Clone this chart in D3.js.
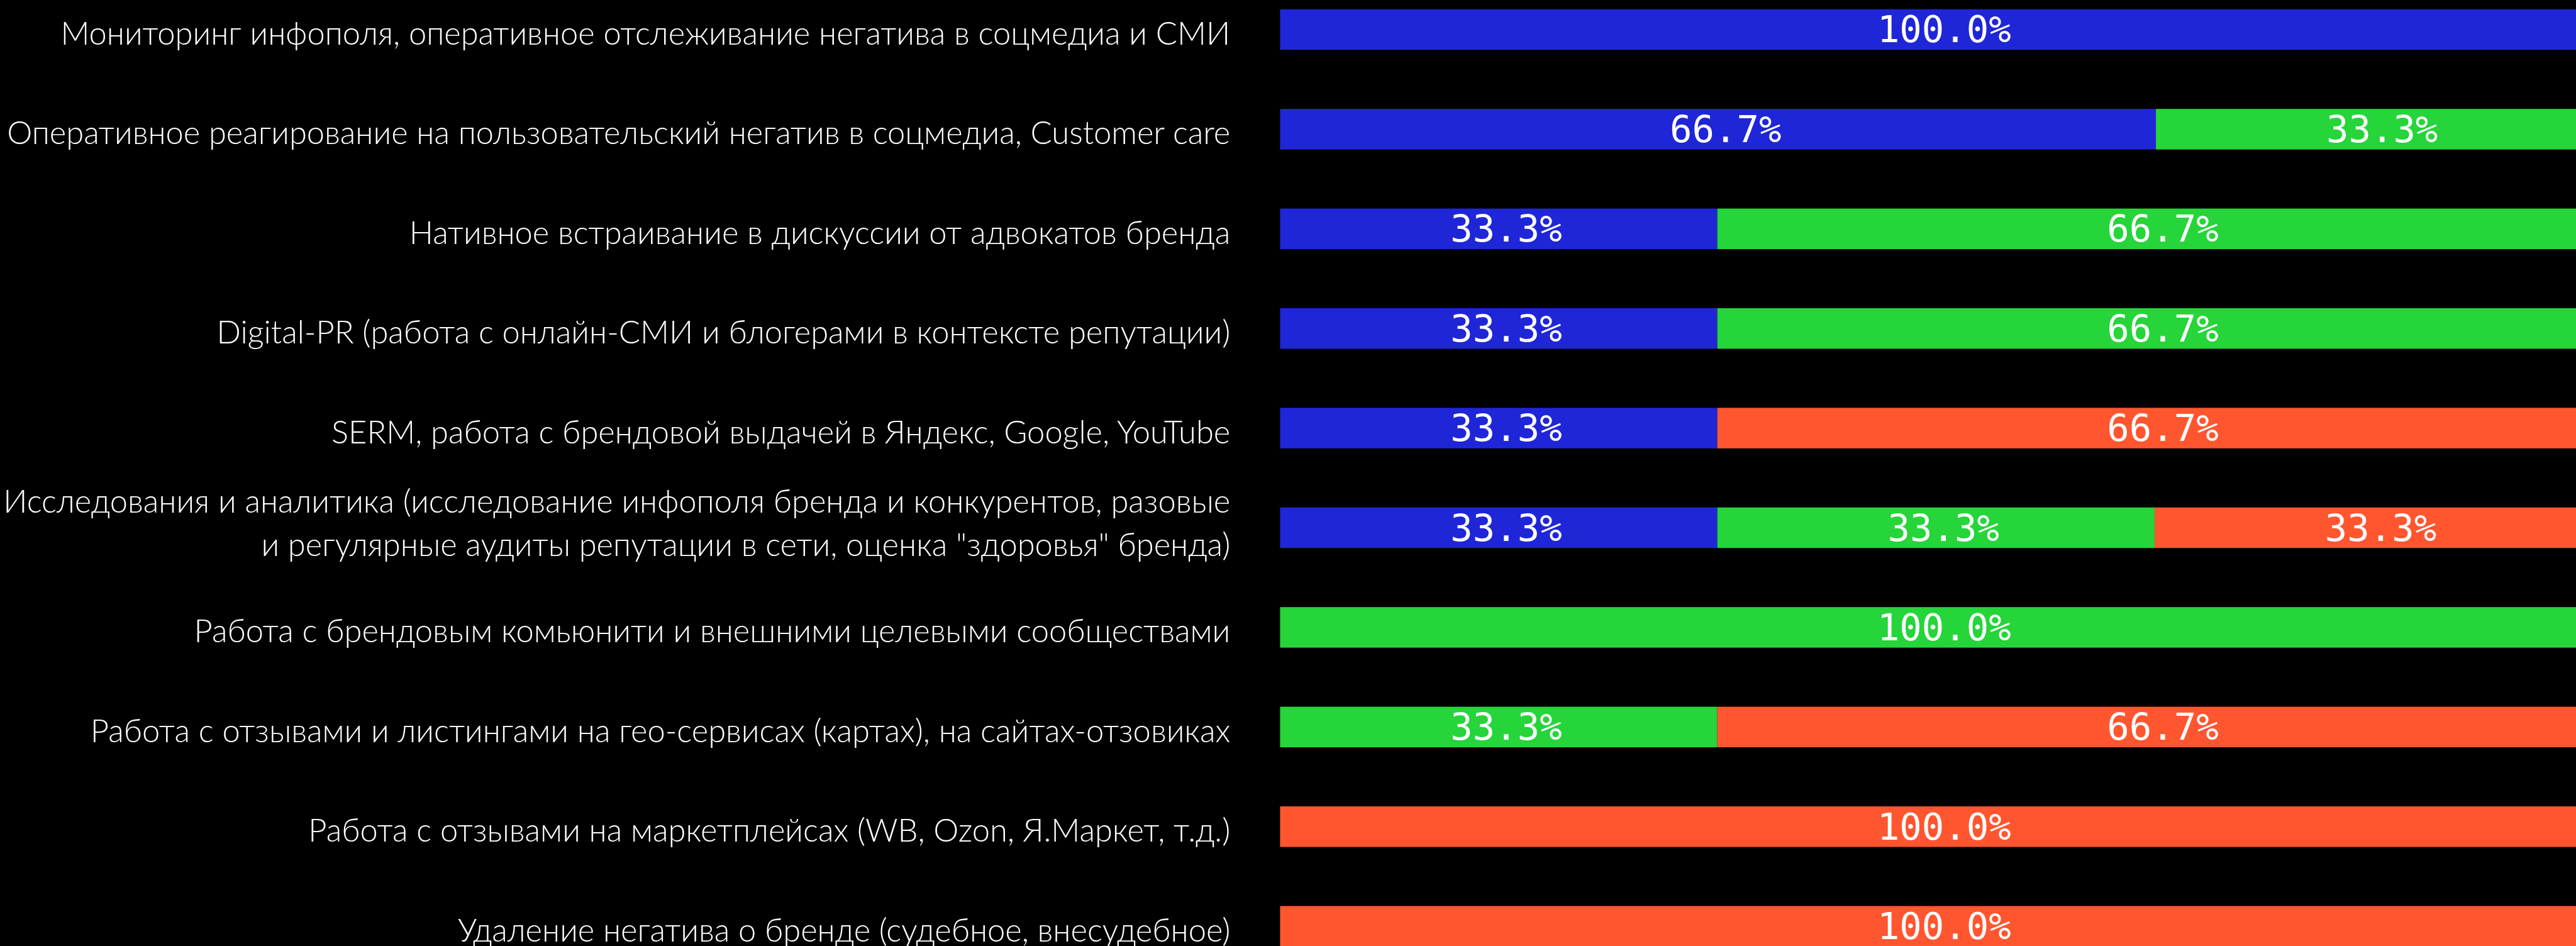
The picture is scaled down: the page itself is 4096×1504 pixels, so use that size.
<!DOCTYPE html>
<html>
<head>
<meta charset="utf-8">
<script src="https://cdn.jsdelivr.net/npm/d3@7"></script>
<style>
  html, body { margin: 0; padding: 0; background: #000; overflow: hidden; }
  svg { display: block; }
</style>
</head>
<body>
<svg id="chart" width="4096" height="1504"></svg>
<script>
// Service categories (top to bottom); "\n" marks a manual line break
const categories = [
  "Мониторинг инфополя, оперативное отслеживание негатива в соцмедиа и СМИ",
  "Оперативное реагирование на пользовательский негатив в соцмедиа, Customer care",
  "Нативное встраивание в дискуссии от адвокатов бренда",
  "Digital-PR (работа с онлайн-СМИ и блогерами в контексте репутации)",
  "SERM, работа с брендовой выдачей в Яндекс, Google, YouTube",
  "Исследования и аналитика (исследование инфополя бренда и конкурентов, разовые\nи регулярные аудиты репутации в сети, оценка \"здоровья\" бренда)",
  "Работа с брендовым комьюнити и внешними целевыми сообществами",
  "Работа с отзывами и листингами на гео-сервисах (картах), на сайтах-отзовиках",
  "Работа с отзывами на маркетплейсах (WB, Ozon, Я.Маркет, т.д.)",
  "Удаление негатива о бренде (судебное, внесудебное)"
];

// Shares per category, in percent
const blueValues  = [100, 66.7, 33.3, 33.3, 33.3, 33.3,   0,    0,   0,   0];
const greenValues = [  0, 33.3, 66.7, 66.7,    0, 33.3, 100, 33.3,   0,   0];
const redValues   = [  0,    0,    0,    0, 66.7, 33.3,   0, 66.7, 100, 100];

const seriesKeys   = ["blue", "green", "red"];
const seriesColors = ["#1f26d8", "#25d53a", "#ff5630"];

const rows = categories.map((c, i) => ({
  category: c,
  blue: blueValues[i],
  green: greenValues[i],
  red: redValues[i]
}));

const SCALE = 0.921;
const svg = d3.select("#chart");
const root = svg.append("g").attr("transform", `scale(${SCALE})`);

const x = d3.scaleLinear().domain([0, 100]).range([2210, 4477]);
const y = d3.scaleBand()
  .domain(categories)
  .range([-35, 1685])
  .paddingInner(0.593)
  .paddingOuter(0.2965);

const color = d3.scaleOrdinal().domain(seriesKeys).range(seriesColors);

const stacked = d3.stack().keys(seriesKeys)(rows);

// Stacked bar segments
const layers = root.append("g").attr("class", "bars")
  .selectAll("g")
  .data(stacked)
  .join("g")
  .attr("fill", d => color(d.key));

layers.selectAll("rect")
  .data(d => d.filter(s => s[1] - s[0] > 0))
  .join("rect")
  .attr("x", d => x(d[0]))
  .attr("y", d => y(d.data.category))
  .attr("width", d => x(d[1]) - x(d[0]))
  .attr("height", y.bandwidth());

// Percentage labels centred in each segment
const fmt = d3.format(".1f");
const valueLabels = root.append("g").attr("class", "values")
  .attr("font-family", "'DejaVu Sans Mono', monospace")
  .attr("font-size", 64)
  .attr("fill", "#ffffff")
  .attr("text-anchor", "middle");

stacked.forEach(layer => {
  valueLabels.selectAll(null)
    .data(layer.filter(s => s[1] - s[0] > 0))
    .join("text")
    .attr("x", d => (x(d[0]) + x(d[1])) / 2)
    .attr("dx", 13)
    .attr("y", d => y(d.data.category) + y.bandwidth() / 2)
    .attr("dominant-baseline", "central")
    .text(d => fmt(d[1] - d[0]) + "%");
});

// Category labels, right-aligned to the left of the bars
const labelX = x(0) - 86;
const lineHeight = 75;
const catLabels = root.append("g").attr("class", "categories")
  .attr("font-family", "Lato, 'Open Sans', sans-serif")
  .attr("font-weight", 300)
  .attr("font-size", 55)
  .attr("fill", "#ffffff")
  .attr("text-anchor", "end");

catLabels.selectAll("text")
  .data(categories)
  .join("text")
  .each(function (c) {
    const lines = c.split("\n");
    const mid = y(c) + y.bandwidth() / 2;
    const first = mid + 26 - (lines.length - 1) * 52;
    d3.select(this).selectAll("tspan")
      .data(lines)
      .join("tspan")
      .attr("x", labelX)
      .attr("y", (l, i) => first + i * lineHeight)
      .text(l => l);
  });
</script>
</body>
</html>
